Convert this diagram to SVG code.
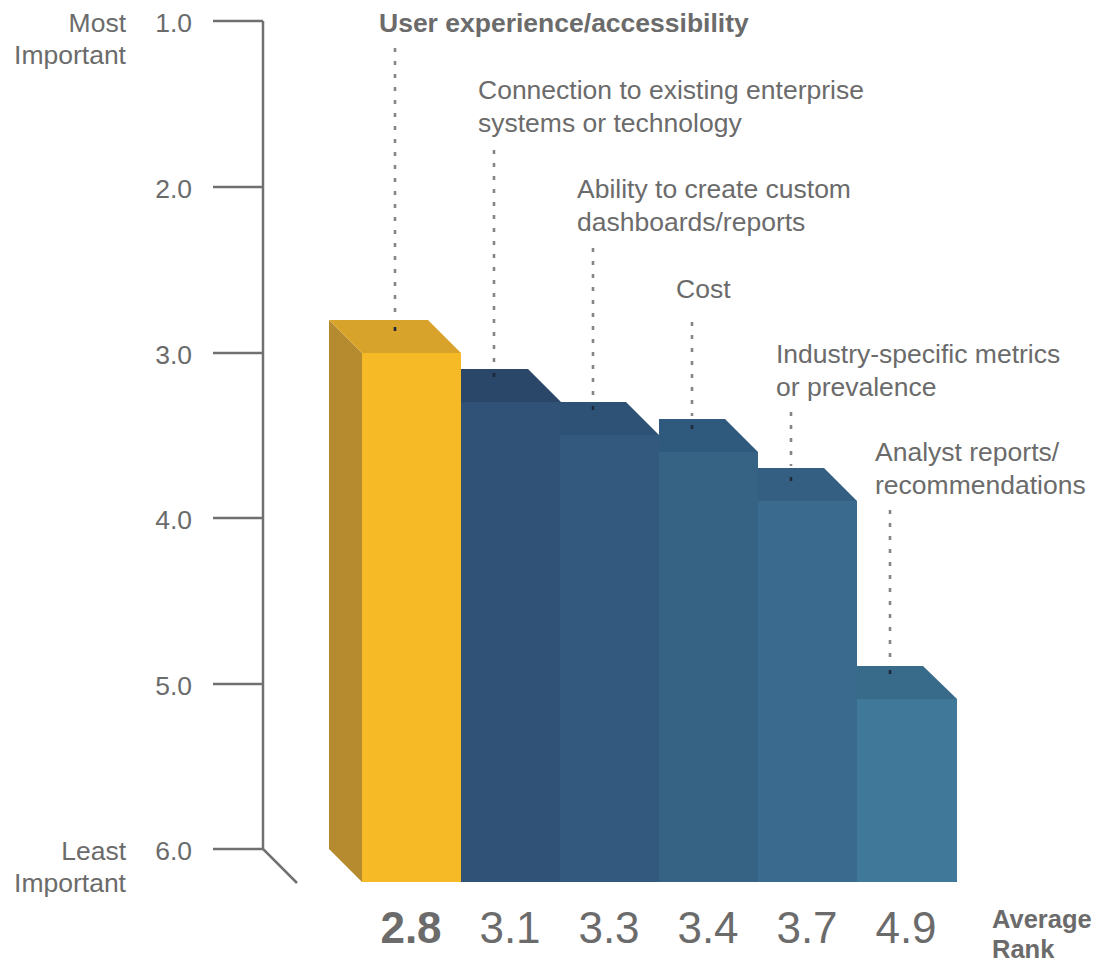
<svg xmlns="http://www.w3.org/2000/svg" width="1098" height="962" viewBox="0 0 1098 962">
<style>
.lbl{font-family:"Liberation Sans",Arial,sans-serif;font-size:26.5px;fill:#6b6b6b}
.b{font-weight:bold}
.tick{font-family:"Liberation Sans",Arial,sans-serif;font-size:26.5px;fill:#6b6b6b;text-anchor:end}
.val{font-family:"Liberation Sans",Arial,sans-serif;font-size:44px;fill:#6b6b6b;text-anchor:middle}
.axis{stroke:#707070;stroke-width:2.5;fill:none}
.lead{stroke:#858585;stroke-width:2.6;stroke-dasharray:4 9;fill:none}
.dot{stroke:#1e2a3a;stroke-width:2.6;fill:none}
</style>
<rect width="1098" height="962" fill="#ffffff"/>
<g id="axis">
<path class="axis" d="M263 21 V849 L297 883"/>
<path class="axis" d="M213 21 H263 M213 187 H263 M213 353 H263 M213 518 H263 M213 684 H263 M213 849 H263"/>
<text class="tick" x="192" y="32">1.0</text>
<text class="tick" x="192" y="198">2.0</text>
<text class="tick" x="192" y="364">3.0</text>
<text class="tick" x="192" y="529">4.0</text>
<text class="tick" x="192" y="695">5.0</text>
<text class="tick" x="192" y="860">6.0</text>
<text class="tick" x="126" y="32">Most</text>
<text class="tick" x="126" y="64">Important</text>
<text class="tick" x="126" y="860">Least</text>
<text class="tick" x="126" y="892">Important</text>
</g>
<g id="bar6">
<polygon points="857,666 923,666 957,699 857,699" fill="#386a89"/>
<rect x="857" y="699" width="100" height="183" fill="#3f7898"/>
</g>
<g id="bar5">
<polygon points="758,468 824,468 857,501 758,501" fill="#345f83"/>
<rect x="758" y="501" width="99" height="381" fill="#3a6b8f"/>
</g>
<g id="bar4">
<polygon points="659,419 725,419 758,452 659,452" fill="#305a7d"/>
<rect x="659" y="452" width="99" height="430" fill="#366384"/>
</g>
<g id="bar3">
<polygon points="560,402 626,402 659,435 560,435" fill="#2d5276"/>
<rect x="560" y="435" width="99" height="447" fill="#335a7e"/>
</g>
<g id="bar2">
<polygon points="461,369 528,369 561,402 461,402" fill="#2a4769"/>
<rect x="461" y="402" width="99" height="480" fill="#2f5276"/>
</g>
<g id="bar1">
<polygon points="329,320 362,353 362,882 329,849" fill="#b68a2e"/>
<polygon points="329,320 428,320 461,353 362,353" fill="#d7a32b"/>
<rect x="362" y="353" width="99" height="529" fill="#f5ba26"/>
</g>
<g id="connectors">
<line class="lead" x1="395" y1="48" x2="395" y2="318"/>
<line class="dot" x1="395" y1="327" x2="395" y2="331"/>
<line class="lead" x1="494" y1="150" x2="494" y2="365"/>
<line class="dot" x1="494" y1="373" x2="494" y2="377"/>
<line class="lead" x1="593" y1="248" x2="593" y2="400"/>
<line class="dot" x1="593" y1="406" x2="593" y2="410"/>
<line class="lead" x1="692" y1="322" x2="692" y2="416"/>
<line class="dot" x1="692" y1="425" x2="692" y2="429"/>
<line class="lead" x1="791" y1="412" x2="791" y2="466"/>
<line class="dot" x1="791" y1="477" x2="791" y2="481"/>
<line class="lead" x1="890" y1="510" x2="890" y2="664"/>
<line class="dot" x1="890" y1="670" x2="890" y2="674"/>
</g>
<g id="labels">
<text class="lbl b" x="379" y="32">User experience/accessibility</text>
<text class="lbl" x="478" y="99">Connection to existing enterprise</text>
<text class="lbl" x="478" y="132">systems or technology</text>
<text class="lbl" x="577" y="198">Ability to create custom</text>
<text class="lbl" x="577" y="231">dashboards/reports</text>
<text class="lbl" x="676" y="298">Cost</text>
<text class="lbl" x="776" y="363">Industry-specific metrics</text>
<text class="lbl" x="776" y="396">or prevalence</text>
<text class="lbl" x="875" y="461">Analyst reports/</text>
<text class="lbl" x="875" y="494">recommendations</text>
</g>
<g id="values">
<text class="val b" x="411" y="943">2.8</text>
<text class="val" x="510" y="943">3.1</text>
<text class="val" x="609" y="943">3.3</text>
<text class="val" x="708" y="943">3.4</text>
<text class="val" x="807" y="943">3.7</text>
<text class="val" x="906" y="943">4.9</text>
<text class="lbl b" x="992" y="928" style="font-size:25.5px">Average</text>
<text class="lbl b" x="992" y="958" style="font-size:25.5px">Rank</text>
</g>
</svg>
